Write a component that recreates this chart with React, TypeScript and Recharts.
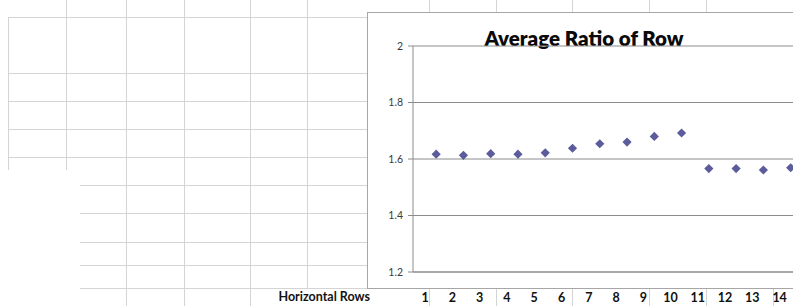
import { ScatterChart, Scatter, XAxis, YAxis, CartesianGrid } from "recharts"

// rows on the horizontal axis and the average ratio read for each one
const rows = [1, 2, 3, 4, 5, 6, 7, 8, 9, 10, 11, 12, 13, 14]
const ratios = [1.617, 1.613, 1.619, 1.617, 1.622, 1.638, 1.654, 1.66, 1.68, 1.692, 1.566, 1.566, 1.561, 1.569]
const yTicks = [1.2, 1.4, 1.6, 1.8, 2]

const data = rows.map((r, i) => ({ row: r, ratio: ratios[i] }))

// spreadsheet cells behind the chart: [x, y1, y2] and [y, x1, x2]
const sheetCols = [
  [8, 17, 170], [66, 0, 170], [126, 0, 306], [184, 0, 306], [250, 0, 306], [307, 0, 288],
  [429, 0, 12], [496, 0, 12], [572, 0, 12], [649, 0, 12], [706, 0, 12],
  [429, 288, 306], [496, 288, 306], [572, 288, 306], [649, 288, 306], [706, 288, 306], [773, 288, 306],
]
const sheetRows = [
  [17, 8, 367], [73, 8, 367], [101, 8, 367], [129, 8, 367], [157, 8, 367],
  [185, 80, 367], [213, 80, 367], [242, 80, 367], [265, 80, 367], [288, 80, 793],
]

const font = "Lato, 'Open Sans', sans-serif"

const Diamond = (props: any) => {
  const { cx, cy } = props
  const s = 4.6
  return (
    <polygon
      points={`${cx},${cy - s} ${cx + s},${cy} ${cx},${cy + s} ${cx - s},${cy}`}
      fill="#5c5c9c"
    />
  )
}

const RowTick = (props: any) => {
  const { x, y, payload } = props
  return (
    <text x={x - 11} y={y + 30} textAnchor="middle" fontSize={12.5} fontWeight={700} fill="#111" fontFamily={font}>
      {payload.value}
    </text>
  )
}

export default function App() {
  return (
    <div style={{ position: "fixed", left: 0, top: 0, width: 793, height: 306, overflow: "hidden", background: "#fff", fontFamily: font }}>
      {sheetCols.map(([x, y1, y2], i) => (
        <div key={"c" + i} style={{ position: "absolute", left: x, top: y1, width: 1, height: y2 - y1, background: "#d4d4d4" }} />
      ))}
      {sheetRows.map(([y, x1, x2], i) => (
        <div key={"r" + i} style={{ position: "absolute", left: x1, top: y, width: x2 - x1, height: 1, background: "#d4d4d4" }} />
      ))}

      <div style={{ position: "absolute", left: 260, top: 289, width: 110, textAlign: "right", fontSize: 12.5, fontWeight: 700, color: "#111" }}>
        Horizontal Rows
      </div>

      {/* chart area box */}
      <div style={{ position: "absolute", left: 367, top: 12, width: 440, height: 275, border: "1px solid #a6a6a6", background: "#fff" }} />

      <div style={{ position: "absolute", left: 367, top: 26, width: 434, textAlign: "center", fontSize: 20.5, fontWeight: 800, color: "#0a0a0a" }}>
        Average Ratio of Row
      </div>

      <div style={{ position: "absolute", left: 367, top: 12 }}>
        <ScatterChart width={440} height={294} margin={{ top: 34, right: 0, left: 0, bottom: 0 }}>
          <CartesianGrid vertical={false} stroke="#8c8c8c" />
          <XAxis
            type="number"
            dataKey="row"
            domain={[0.15, 14.6]}
            allowDataOverflow
            ticks={rows}
            height={34}
            tickSize={0}
            tickMargin={0}
            axisLine={{ stroke: "#8c8c8c" }}
            tickLine={false}
            tick={<RowTick />}
          />
          <YAxis
            type="number"
            dataKey="ratio"
            domain={[1.2, 2]}
            ticks={yTicks}
            width={46}
            tickSize={5}
            tickMargin={5}
            axisLine={{ stroke: "#8c8c8c" }}
            tickLine={{ stroke: "#8c8c8c" }}
            tick={{ fontSize: 10.5, fill: "#3a3a3a", fontFamily: font }}
          />
          <Scatter data={data} shape={<Diamond />} isAnimationActive={false} />
        </ScatterChart>
      </div>
    </div>
  )
}
